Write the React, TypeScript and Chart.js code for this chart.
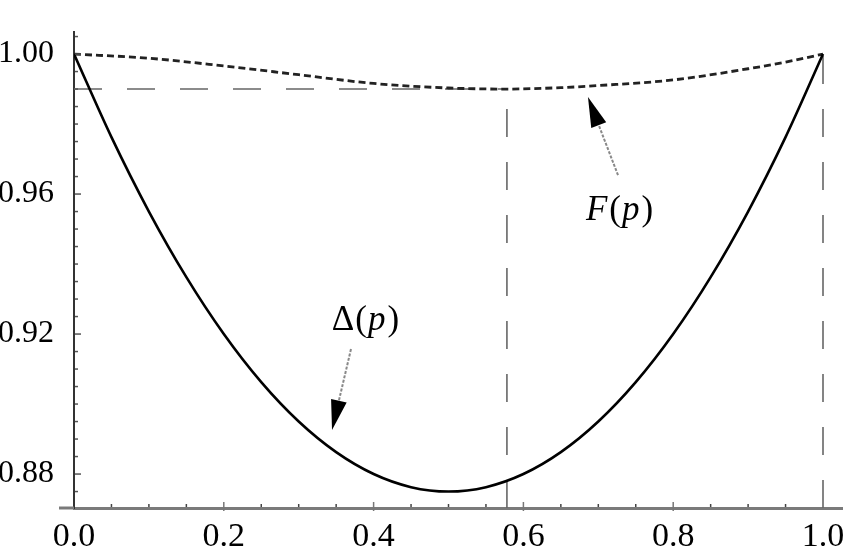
import { useEffect, useRef } from "react";
import { Chart, registerables } from "chart.js";

Chart.register(...registerables);

// ---- data ----
const pValues = [0, 0.05, 0.1, 0.15, 0.2, 0.25, 0.3, 0.35, 0.4, 0.45, 0.5, 0.55, 0.6, 0.65, 0.7, 0.75, 0.8, 0.85, 0.9, 0.95, 1.0];
const deltaValues = [1.0, 0.97625, 0.955, 0.93625, 0.92, 0.90625, 0.895, 0.88625, 0.88, 0.87625, 0.875, 0.87625, 0.88, 0.88625, 0.895, 0.90625, 0.92, 0.93625, 0.955, 0.97625, 1.0];

const fP = [0, 0.1, 0.2, 0.3, 0.4, 0.5, 0.578, 0.65, 0.7, 0.8, 0.9, 0.95, 1.0];
const fValues = [1.0, 0.9988, 0.9966, 0.9941, 0.9916, 0.9903, 0.99, 0.9904, 0.991, 0.9926, 0.9958, 0.9977, 1.0];

const pStar = 0.578;
const fMin = 0.99;

const xTickLabels = ["0.0", "0.2", "0.4", "0.6", "0.8", "1.0"];
const yTickLabels = ["0.88", "0.92", "0.96", "1.00"];

const X_MIN = 0;
const X_MAX = 1.0267;
const X_STUB = -0.02;
const Y_MIN = 0.8703;
const Y_MAX = 1.0063;

// annotation anchors (data coordinates)
const fLabelPos = { x: 0.729, y: 0.9551 };
const fArrowTail = { x: 0.7263, y: 0.9654 };
const fArrowTip = { x: 0.6862, y: 0.9877 };
const dLabelPos = { x: 0.3898, y: 0.9237 };
const dArrowTail = { x: 0.3698, y: 0.9157 };
const dArrowTip = { x: 0.3445, y: 0.8926 };

const SERIF = "'Liberation Serif', 'DejaVu Serif', serif";

function drawArrow(ctx: CanvasRenderingContext2D, x1: number, y1: number, x2: number, y2: number) {
  const ang = Math.atan2(y2 - y1, x2 - x1);
  const headLen = 30;
  const headHalf = 8;
  const bx = x2 - headLen * Math.cos(ang);
  const by = y2 - headLen * Math.sin(ang);
  ctx.save();
  ctx.strokeStyle = "#888";
  ctx.lineWidth = 2;
  ctx.setLineDash([3, 1.5]);
  ctx.beginPath();
  ctx.moveTo(x1, y1);
  ctx.lineTo(bx, by);
  ctx.stroke();
  ctx.setLineDash([]);
  ctx.fillStyle = "#000";
  ctx.beginPath();
  ctx.moveTo(x2, y2);
  ctx.lineTo(bx + headHalf * Math.sin(ang), by - headHalf * Math.cos(ang));
  ctx.lineTo(bx - headHalf * Math.sin(ang), by + headHalf * Math.cos(ang));
  ctx.closePath();
  ctx.fill();
  ctx.restore();
}

function drawMath(ctx: CanvasRenderingContext2D, parts: { t: string; italic: boolean }[], cx: number, cy: number, size: number) {
  ctx.save();
  ctx.fillStyle = "#000";
  ctx.textBaseline = "middle";
  ctx.textAlign = "left";
  const widths = parts.map((p) => {
    ctx.font = `${p.italic ? "italic " : ""}${size}px ${SERIF}`;
    return ctx.measureText(p.t).width + (p.italic ? 2 : 1);
  });
  const total = widths.reduce((a, b) => a + b, 0);
  let x = cx - total / 2;
  parts.forEach((p, i) => {
    ctx.font = `${p.italic ? "italic " : ""}${size}px ${SERIF}`;
    ctx.fillText(p.t, x, cy);
    x += widths[i];
  });
  ctx.restore();
}

const decorPlugin = {
  id: "decor",
  afterDraw(chart: any) {
    const { ctx, scales } = chart;
    const xs = scales.x;
    const ys = scales.y;
    const axisY = ys.getPixelForValue(Y_MIN);
    const axisX = xs.getPixelForValue(0);
    ctx.save();
    // x-axis stub extending left of the y axis
    ctx.strokeStyle = "#7a7a7a";
    ctx.lineWidth = 3;
    ctx.beginPath();
    ctx.moveTo(xs.getPixelForValue(X_STUB), axisY);
    ctx.lineTo(axisX, axisY);
    ctx.stroke();
    for (let i = 1; i < 20; i++) {
      const v = i * 0.05;
      const px = xs.getPixelForValue(v);
      const major = i % 4 === 0;
      ctx.strokeStyle = major ? "#777" : "#444";
      ctx.lineWidth = 1.5;
      ctx.beginPath();
      ctx.moveTo(px, major ? axisY + 3 : axisY - 1);
      ctx.lineTo(px, major ? axisY - 6 : axisY - 4);
      ctx.stroke();
    }
    for (let i = 0; i <= 26; i++) {
      const v = 0.875 + i * 0.005;
      if (v > Y_MAX) break;
      const py = ys.getPixelForValue(v);
      const major = Math.abs(((v - 0.88) / 0.04) - Math.round((v - 0.88) / 0.04)) < 1e-6;
      ctx.strokeStyle = "#555";
      ctx.lineWidth = 1.5;
      ctx.beginPath();
      ctx.moveTo(axisX + 1, py);
      ctx.lineTo(axisX + (major ? 7 : 4), py);
      ctx.stroke();
    }
    ctx.restore();

    drawArrow(ctx, xs.getPixelForValue(fArrowTail.x), ys.getPixelForValue(fArrowTail.y), xs.getPixelForValue(fArrowTip.x), ys.getPixelForValue(fArrowTip.y));
    drawArrow(ctx, xs.getPixelForValue(dArrowTail.x), ys.getPixelForValue(dArrowTail.y), xs.getPixelForValue(dArrowTip.x), ys.getPixelForValue(dArrowTip.y));

    drawMath(ctx, [{ t: "F", italic: true }, { t: "(", italic: false }, { t: "p", italic: true }, { t: ")", italic: false }], xs.getPixelForValue(fLabelPos.x), ys.getPixelForValue(fLabelPos.y), 35);
    drawMath(ctx, [{ t: "Δ", italic: false }, { t: "(", italic: false }, { t: "p", italic: true }, { t: ")", italic: false }], xs.getPixelForValue(dLabelPos.x), ys.getPixelForValue(dLabelPos.y), 35);
  },
};

export default function App() {
  const ref = useRef<HTMLCanvasElement | null>(null);
  useEffect(() => {
    if (!ref.current) return;
    const guide = { borderColor: "#666", borderWidth: 1.6, borderDash: [28, 25], pointRadius: 0, tension: 0 };
    const chart = new Chart(ref.current, {
      type: "line",
      data: {
        datasets: [
          {
            label: "Δ(p)",
            data: pValues.map((p, i) => ({ x: p, y: deltaValues[i] })),
            borderColor: "#000",
            borderWidth: 2.6,
            pointRadius: 0,
            cubicInterpolationMode: "monotone",
          },
          {
            label: "F(p)",
            data: fP.map((p, i) => ({ x: p, y: fValues[i] })),
            borderColor: "#222",
            borderWidth: 2.8,
            borderDash: [7, 4],
            pointRadius: 0,
            cubicInterpolationMode: "monotone",
          },
          { label: "h", data: [{ x: 0, y: fMin }, { x: pStar, y: fMin }], ...guide },
          { label: "v1", data: [{ x: pStar, y: Y_MIN }, { x: pStar, y: fMin }], ...guide },
          { label: "v2", data: [{ x: 1.0, y: Y_MIN }, { x: 1.0, y: 1.0 }], ...guide },
        ] as any,
      },
      options: {
        animation: false,
        responsive: false,
        events: [],
        layout: { padding: { left: 0, top: 32, right: 0, bottom: 0 } },
        plugins: { legend: { display: false }, tooltip: { enabled: false } },
        scales: {
          x: {
            type: "linear",
            min: X_MIN,
            max: X_MAX,
            position: "bottom",
            grid: { display: false, drawTicks: false },
            border: { display: true, color: "#7a7a7a", width: 3 },
            ticks: {
              stepSize: 0.2,
              includeBounds: false,
              padding: 9,
              maxRotation: 0,
              autoSkip: false,
              color: "#000",
              font: { family: SERIF, size: 34 },
              callback: (v: any) => {
                const idx = Math.round(Number(v) / 0.2);
                return xTickLabels[idx] ?? "";
              },
            },
            afterFit: (s: any) => {
              s.height = 42;
              s.paddingLeft = 0;
              s.paddingRight = 0;
            },
          },
          y: {
            type: "linear",
            min: Y_MIN,
            max: Y_MAX,
            position: "left",
            grid: { display: false, drawTicks: false },
            border: { display: true, color: "#333", width: 2 },
            ticks: {
              stepSize: 0.04,
              includeBounds: false,
              padding: 20,
              color: "#000",
              font: { family: SERIF, size: 32 },
              callback: (v: any) => {
                const idx = Math.round((Number(v) - 0.88) / 0.04);
                return yTickLabels[idx] ?? "";
              },
            },
            afterFit: (s: any) => {
              s.width = 74;
              s.paddingTop = 0;
              s.paddingBottom = 0;
            },
          },
        },
      } as any,
      plugins: [decorPlugin],
    });
    return () => chart.destroy();
  }, []);
  return (
    <div style={{ position: "absolute", left: 0, top: 0, width: 843, height: 550, background: "#fff" }}>
      <canvas ref={ref} width={843} height={550} style={{ display: "block" }} />
    </div>
  );
}
